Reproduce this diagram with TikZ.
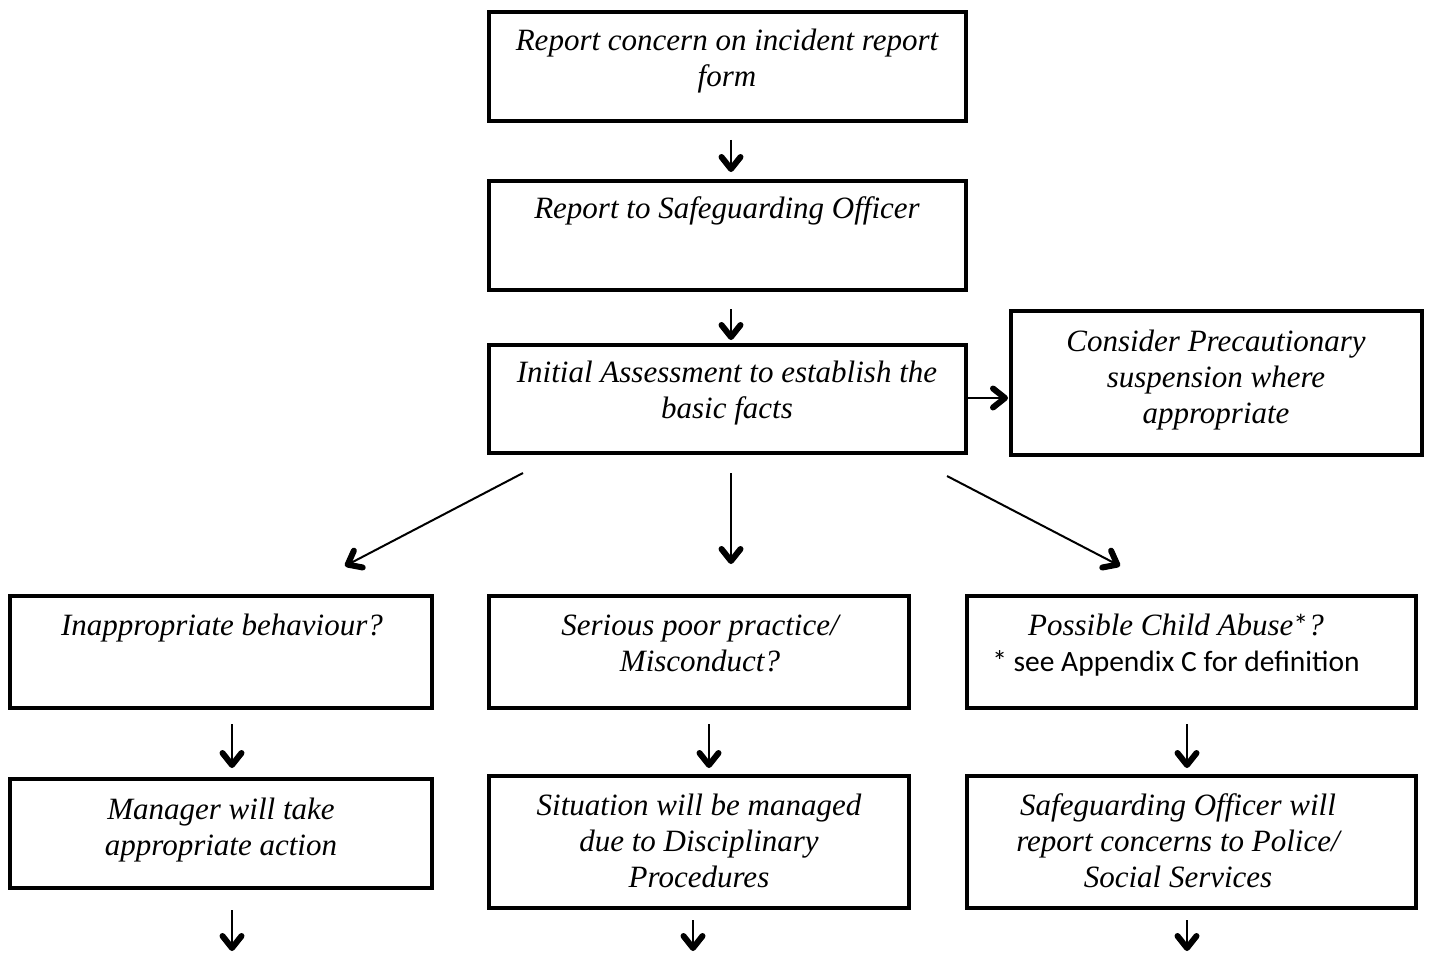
\documentclass[tikz,border=0pt]{standalone}
\usepackage{fontspec}
\setmainfont{Liberation Serif}
\newfontfamily\calib{Carlito}
\usetikzlibrary{arrows.meta}
\begin{document}
\begin{tikzpicture}[x=1pt,y=-1pt,
  box/.style={draw, line width=4pt, inner sep=0pt},
  txt/.style={font=\fontsize{31}{36}\selectfont\itshape, align=center, inner sep=0pt, anchor=base},
  arr/.style={line width=2pt, -{Straight Barb[length=12pt,width=19pt,line width=6pt,round]}}]
\useasboundingbox (0,0) rectangle (1432,955);
% boxes
\node[box, minimum width=477pt, minimum height=109pt] (b1) at (727.5,66.5) {};
\node[box, minimum width=477pt, minimum height=109pt] (b2) at (727.5,235.5) {};
\node[box, minimum width=477pt, minimum height=108pt] (b3) at (727.5,399) {};
\node[box, minimum width=411pt, minimum height=144pt] (b4) at (1216.5,383) {};
\node[box, minimum width=422pt, minimum height=112pt] (b5) at (221,652) {};
\node[box, minimum width=420pt, minimum height=112pt] (b6) at (699,652) {};
\node[box, minimum width=449pt, minimum height=112pt] (b7) at (1191.5,652) {};
\node[box, minimum width=422pt, minimum height=109pt] (b8) at (221,833.5) {};
\node[box, minimum width=420pt, minimum height=132pt] (b9) at (699,842) {};
\node[box, minimum width=449pt, minimum height=132pt] (b10) at (1191.5,842) {};
% texts (anchor = baseline of last line)
\node[txt] (t1) at (727,87) {Report concern on incident report\\form};
\node[txt] (t2) at (727,218) {Report to Safeguarding Officer};
\node[txt] (t3) at (727,418) {Initial Assessment to establish the\\basic facts};
\node[txt] (t4) at (1216,423) {Consider Precautionary\\suspension where\\appropriate};
\node[txt] (t5) at (222,635) {Inappropriate behaviour?};
\node[txt] (t6) at (700,671) {Serious poor practice/\\Misconduct?};
\node[txt] (t7) at (1176,671) {Possible Child Abuse{\calib\upshape\fontsize{30}{30}\selectfont *}?\\{\calib\upshape\fontsize{29.5}{36}\selectfont * see Appendix C for definition}};
\node[txt] (t8) at (221,855) {Manager will take\\appropriate action};
\node[txt] (t9) at (699,887) {Situation will be managed\\due to Disciplinary\\Procedures};
\node[txt] (t10) at (1178,887) {Safeguarding Officer will\\report concerns to Police/\\Social Services};
% arrow end points
\coordinate (a1s) at (731,140); \coordinate (a1e) at (731,172);
\coordinate (a2s) at (731,309); \coordinate (a2e) at (731,340);
\coordinate (a3s) at (968,398); \coordinate (a3e) at (1008,398);
\coordinate (d1s) at (523,473); \coordinate (d1e) at (345,566);
\coordinate (d2s) at (731,473); \coordinate (d2e) at (731,564);
\coordinate (d3s) at (947,476); \coordinate (d3e) at (1120,566);
\coordinate (a5s) at (232,724); \coordinate (a5e) at (232,768);
\coordinate (a6s) at (709,724); \coordinate (a6e) at (709,768);
\coordinate (a7s) at (1187,724); \coordinate (a7e) at (1187,768);
\coordinate (a8s) at (232,910); \coordinate (a8e) at (232,951);
\coordinate (a9s) at (693,920); \coordinate (a9e) at (693,951);
\coordinate (a10s) at (1187,920); \coordinate (a10e) at (1187,951);
\draw[arr] (a1s) -- (a1e);
\draw[arr] (a2s) -- (a2e);
\draw[arr] (a3s) -- (a3e);
\draw[arr] (d1s) -- (d1e);
\draw[arr] (d2s) -- (d2e);
\draw[arr] (d3s) -- (d3e);
\draw[arr] (a5s) -- (a5e);
\draw[arr] (a6s) -- (a6e);
\draw[arr] (a7s) -- (a7e);
\draw[arr] (a8s) -- (a8e);
\draw[arr] (a9s) -- (a9e);
\draw[arr] (a10s) -- (a10e);
\end{tikzpicture}
\end{document}
